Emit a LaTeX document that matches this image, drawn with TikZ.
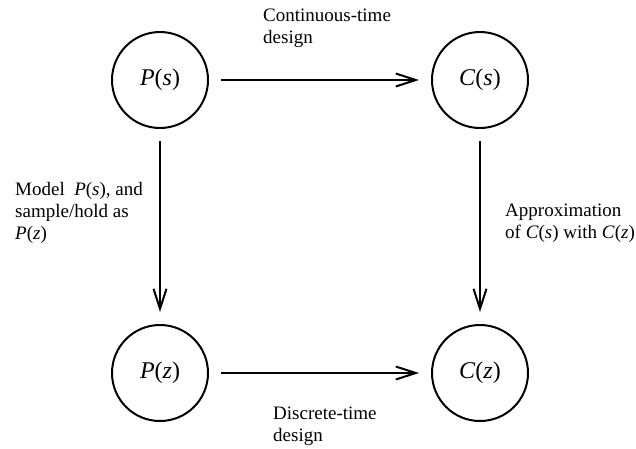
\documentclass[tikz,border=0pt]{standalone}
\usepackage{fontspec}
\setmainfont{Liberation Serif}
\usetikzlibrary{arrows.meta}
\begin{document}
\begin{tikzpicture}[x=1pt,y=-1pt,
  state/.style={circle,draw,line width=2pt,minimum size=96pt,inner sep=0pt,font=\fontsize{24}{28}\selectfont},
  conn/.style={line width=2pt,-{Straight Barb[length=20pt,width=13pt,line width=2pt]},shorten <=12pt,shorten >=12pt},
  lbl/.style={align=left,font=\fontsize{19}{22}\selectfont,inner sep=0pt,anchor=north west}]
\useasboundingbox (0,0) rectangle (636,448);
\node[state] (ps) at (160,80) {\textit{P}(\textit{s})};
\node[state] (cs) at (480,80) {\textit{C}(\textit{s})};
\node[state] (pz) at (160,373) {\textit{P}(\textit{z})};
\node[state] (cz) at (480,373) {\textit{C}(\textit{z})};
\draw[conn] (ps) -- (cs);
\draw[conn] (pz) -- (cz);
\draw[conn] (ps) -- (pz);
\draw[conn] (cs) -- (cz);
\node[lbl] (t1) at (263,9) {Continuous-time\\design};
\node[lbl] (t2) at (15,182) {Model\ \ \textit{P}(\textit{s}), and\\sample/hold as\\\textit{P}(\textit{z})};
\node[lbl] (t3) at (505,204) {Approximation\\of \textit{C}(\textit{s}) with \textit{C}(\textit{z})};
\node[lbl] (t4) at (273,407) {Discrete-time\\design};
\end{tikzpicture}
\end{document}
